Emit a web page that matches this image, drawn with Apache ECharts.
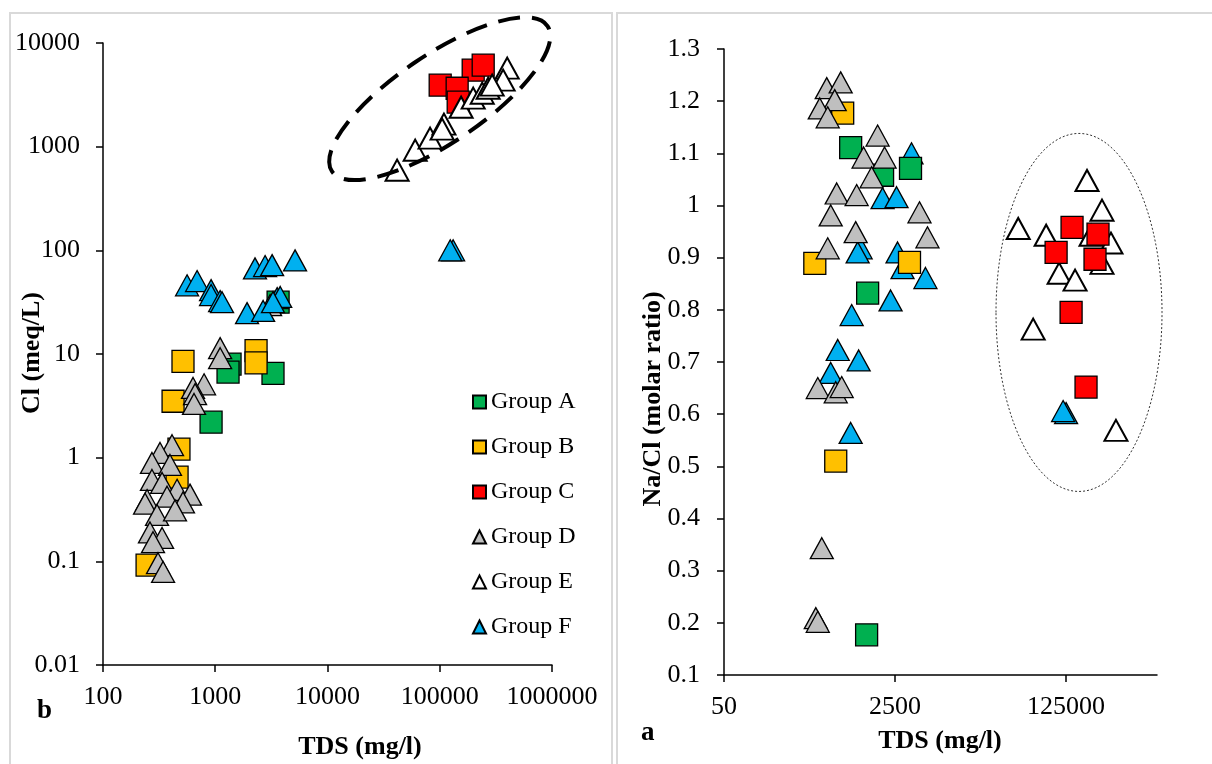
<!DOCTYPE html>
<html>
<head>
<meta charset="utf-8">
<script src="https://cdn.jsdelivr.net/npm/echarts@6/dist/echarts.min.js"></script>
<style>
  html, body { margin: 0; padding: 0; background: #fff; }
  #chart { width: 1212px; height: 764px; }
</style>
</head>
<body>
<div id="chart"></div>
<script>
// --- data ---
const groupNames = ['Group A', 'Group B', 'Group C', 'Group D', 'Group E', 'Group F'];

// panel b : TDS (mg/l) vs Cl (meq/L)
const clA = [[1355, 8.0], [1300, 6.7], [3270, 6.5], [918, 2.2], [3630, 31.6]];
const clB = [[516, 8.5], [2310, 10.8], [2310, 8.2], [421, 3.5], [475, 1.21], [457, 0.65], [247, 0.092]];
const clC = [[100900, 3920], [198600, 5470], [243800, 6110], [142900, 3660], [146000, 2690]];
const clD = [[1105, 11.4], [1105, 9.1], [795, 5.1], [634, 4.7], [661, 4.1], [647, 3.3], [3080, 29.6],
  [412, 1.32], [322, 1.11], [273, 0.89], [395, 0.85], [273, 0.61], [336, 0.57], [457, 0.49], [596, 0.44],
  [516, 0.37], [247, 0.39], [237, 0.36], [372, 0.42], [303, 0.28], [438, 0.31], [262, 0.19], [336, 0.168],
  [279, 0.153], [309, 0.096], [343, 0.079]];
const clE = [[41700, 593], [60400, 925], [82000, 1210], [109000, 1650], [105000, 1475], [155000, 2400],
  [198600, 2940], [239000, 3280], [270000, 3660], [399000, 5720], [367000, 4380], [293000, 3920]];
const clF = [[561, 46], [689, 50.5], [918, 41.3], [918, 37], [1105, 32.4], [1150, 31.6], [1920, 24.8],
  [2670, 26], [2260, 67], [2780, 70.5], [3210, 72], [5140, 80], [3560, 34.6], [3790, 35.5], [3270, 31.6],
  [131500, 100], [124000, 100]];

// panel a : TDS (mg/l) vs Na/Cl (molar ratio)
const naA = [[906, 1.111], [1880, 1.058], [3561, 1.071], [1336, 0.832], [1305, 0.177]];
const naB = [[755, 1.177], [399, 0.889], [3480, 0.891], [644, 0.510]];
const naC = [[143300, 0.958], [259400, 0.945], [99500, 0.910], [242300, 0.897], [140200, 0.795], [197300, 0.652]];
const naD = [[524, 1.225], [721, 1.236], [629, 1.202], [447, 1.186], [536, 1.169], [1678, 1.134], [1218, 1.092],
  [1968, 1.092], [1463, 1.054], [658, 1.023], [1039, 1.020], [574, 0.981], [4374, 0.987], [5248, 0.939],
  [1016, 0.949], [536, 0.918], [427, 0.650], [644, 0.642], [738, 0.652], [468, 0.343], [408, 0.209], [427, 0.202]];
const naE = [[201800, 1.048], [284200, 0.991], [41830, 0.956], [79250, 0.943], [221300, 0.943], [349000, 0.928],
  [106600, 0.870], [153500, 0.857], [284200, 0.889], [58880, 0.763], [391000, 0.569]];
const naF = [[3642, 1.100], [1880, 1.014], [2587, 1.016], [1138, 0.918], [1063, 0.910], [2647, 0.910],
  [2967, 0.880], [5012, 0.861], [2257, 0.818], [927, 0.790], [674, 0.723], [1088, 0.703], [574, 0.679],
  [906, 0.564], [125000, 0.602], [116800, 0.606]];

// tick labels
const clXTicks = [100, 1000, 10000, 100000, 1000000];
const clYTicks = [0.01, 0.1, 1, 10, 100, 1000, 10000];
const naXTicks = [50, 2500, 125000];
const naYTicks = [0.1, 0.2, 0.3, 0.4, 0.5, 0.6, 0.7, 0.8, 0.9, 1, 1.1, 1.2, 1.3];

// centres of the two highlight ellipses, in data units
const clEllipseCentre = [100000, 2900];
const naEllipseCentre = [168000, 0.795];

// --- style ---
const FONT = 'Liberation Serif';
const fills = {
  'Group A': '#00b050', 'Group B': '#ffc000', 'Group C': '#ff0000',
  'Group D': '#bfbfbf', 'Group E': '#ffffff', 'Group F': '#00b0f0'
};

function fmt(v) {
  return String(+Number(v).toPrecision(6));
}

function makeSeries(name, data, idx) {
  const square = name <= 'Group C';
  return {
    name: name,
    type: 'scatter',
    xAxisIndex: idx,
    yAxisIndex: idx,
    data: data,
    symbol: square ? 'rect' : 'triangle',
    symbolSize: square ? 22 : [23, 21],
    itemStyle: {
      color: fills[name],
      borderColor: '#000',
      borderWidth: name === 'Group E' ? 2 : 1.3,
      opacity: 1
    },
    emphasis: { disabled: true },
    silent: true,
    animation: false
  };
}

function axisCommon(ticks, margin) {
  return {
    axisLine: { show: true, onZero: false, lineStyle: { color: '#000', width: 1.5 } },
    axisTick: { show: true, length: 7, lineStyle: { color: '#000', width: 1.5 }, customValues: ticks },
    axisLabel: { color: '#000', fontFamily: FONT, fontSize: 26, margin: margin, formatter: fmt, customValues: ticks },
    splitLine: { show: false }
  };
}

const chart = echarts.init(document.getElementById('chart'));

const option = {
  backgroundColor: '#fff',
  animation: false,
  grid: [
    { left: 103, top: 43, width: 449, height: 622, outerBoundsMode: 'none' },
    { left: 724, top: 49, width: 433, height: 626, outerBoundsMode: 'none' }
  ],
  xAxis: [
    Object.assign(axisCommon(clXTicks, 19), {
      type: 'log', logBase: 10, min: 100, max: 1000000, gridIndex: 0
    }),
    Object.assign(axisCommon(naXTicks, 19), {
      type: 'log', logBase: 50, min: 50, max: 1000000, gridIndex: 1
    })
  ],
  yAxis: [
    Object.assign(axisCommon(clYTicks, 23), {
      type: 'log', logBase: 10, min: 0.01, max: 10000, gridIndex: 0
    }),
    Object.assign(axisCommon(naYTicks, 24), {
      type: 'value', min: 0.1, max: 1.3, interval: 0.1, gridIndex: 1
    })
  ],
  legend: {
    data: groupNames,
    orient: 'vertical',
    left: 472,
    top: 390,
    padding: 0,
    itemWidth: 13,
    itemHeight: 13,
    itemGap: 21,
    selectedMode: false,
    textStyle: { color: '#000', fontFamily: FONT, fontSize: 24, lineHeight: 24 }
  },
  series: [
    makeSeries('Group A', clA, 0),
    makeSeries('Group B', clB, 0),
    makeSeries('Group C', clC, 0),
    makeSeries('Group D', clD, 0),
    makeSeries('Group E', clE, 0),
    makeSeries('Group F', clF, 0),
    makeSeries('Group F', naF, 1),
    makeSeries('Group E', naE, 1),
    makeSeries('Group A', naA, 1),
    makeSeries('Group B', naB, 1),
    makeSeries('Group C', naC, 1),
    makeSeries('Group D', naD, 1)
  ]
};

chart.setOption(option);

// decorations: panel frames, panel letters, axis titles and the two ellipses
const c1 = chart.convertToPixel({ gridIndex: 0 }, clEllipseCentre);
const c2 = chart.convertToPixel({ gridIndex: 1 }, naEllipseCentre);
const titleStyle = { fontFamily: FONT, fontSize: 26, fontWeight: 'bold', fill: '#000', align: 'center', verticalAlign: 'middle' };

chart.setOption({
  graphic: [
    { type: 'rect', shape: { x: 10, y: 13, width: 602, height: 770 }, style: { fill: 'none', stroke: '#d9d9d9', lineWidth: 2 }, silent: true },
    { type: 'rect', shape: { x: 617, y: 13, width: 610, height: 770 }, style: { fill: 'none', stroke: '#d9d9d9', lineWidth: 2 }, silent: true },
    { type: 'text', x: 37, y: 711, style: { text: 'b', fontFamily: FONT, fontSize: 27, fontWeight: 'bold', fill: '#000', verticalAlign: 'middle' }, silent: true },
    { type: 'text', x: 641, y: 733, style: { text: 'a', fontFamily: FONT, fontSize: 27, fontWeight: 'bold', fill: '#000', verticalAlign: 'middle' }, silent: true },
    { type: 'text', x: 360, y: 747, style: Object.assign({ text: 'TDS (mg/l)' }, titleStyle), silent: true },
    { type: 'text', x: 940, y: 741, style: Object.assign({ text: 'TDS (mg/l)' }, titleStyle), silent: true },
    { type: 'text', x: 32, y: 353, rotation: Math.PI / 2, style: Object.assign({ text: 'Cl (meq/L)' }, titleStyle), silent: true },
    { type: 'text', x: 653, y: 399, rotation: Math.PI / 2, style: Object.assign({ text: 'Na/Cl (molar ratio)' }, titleStyle), silent: true },
    { type: 'ellipse', x: c1[0], y: c1[1], rotation: 34 * Math.PI / 180, shape: { cx: 0, cy: 0, rx: 130, ry: 44 },
      style: { fill: 'none', stroke: '#000', lineWidth: 4, lineDash: [22, 12] }, z: 10, silent: true },
    { type: 'ellipse', x: c2[0], y: c2[1], shape: { cx: 0, cy: 0, rx: 83, ry: 179 },
      style: { fill: 'none', stroke: '#333', lineWidth: 1, lineDash: [2, 2] }, z: 10, silent: true }
  ]
});
</script>
</body>
</html>
